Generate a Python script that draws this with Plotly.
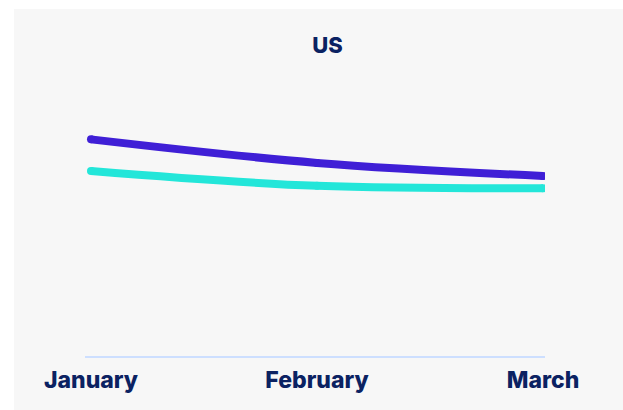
import plotly.graph_objects as go

# Monthly values for the two US series
months = ["January", "February", "March"]
series_a = [72.7, 64.8, 60.4]
series_b = [62.1, 57.1, 56.3]

NAVY = "#0b2262"
PURPLE = "#3f1fd6"
CYAN = "#23e6d9"
PANEL = "#f7f7f7"

fig = go.Figure()
for vals, color in ((series_b, CYAN), (series_a, PURPLE)):
    fig.add_trace(go.Scatter(
        x=months, y=vals, mode="lines+markers",
        line=dict(color=color, width=8, shape="spline", smoothing=1.0),
        marker=dict(color=color, size=8),
        hoverinfo="skip", showlegend=False,
    ))

W, H = 623, 410
ml, mr, mt, mb = 85, 78, 58, 54
pw, ph = W - ml - mr, H - mt - mb

# light grey panel behind the chart (inset from the top and left edges)
fig.add_shape(
    type="rect", xref="paper", yref="paper", layer="below",
    x0=(14 - ml) / pw, x1=(W - ml) / pw,
    y0=-mb / ph, y1=(H - 9 - mb) / ph,
    fillcolor=PANEL, line_width=0,
)

fig.update_layout(
    width=W, height=H,
    margin=dict(l=ml, r=mr, t=mt, b=mb),
    paper_bgcolor="white", plot_bgcolor=PANEL,
    font=dict(family="Inter", color=NAVY),
    title=dict(text="US", x=327.5 / W, xanchor="center", y=1 - 45 / H, yanchor="middle",
               font=dict(size=22, weight=800, color=NAVY)),
    xaxis=dict(
        type="category", range=[-0.0265, 2.0088],
        showgrid=False, zeroline=False,
        showline=True, linecolor="#cddfff", linewidth=2,
        ticks="", ticklabelstandoff=2,
        tickfont=dict(size=23, weight=800, color=NAVY),
    ),
    yaxis=dict(range=[0, 100], visible=False, showgrid=False, zeroline=False),
)

fig.write_html("out.html")
